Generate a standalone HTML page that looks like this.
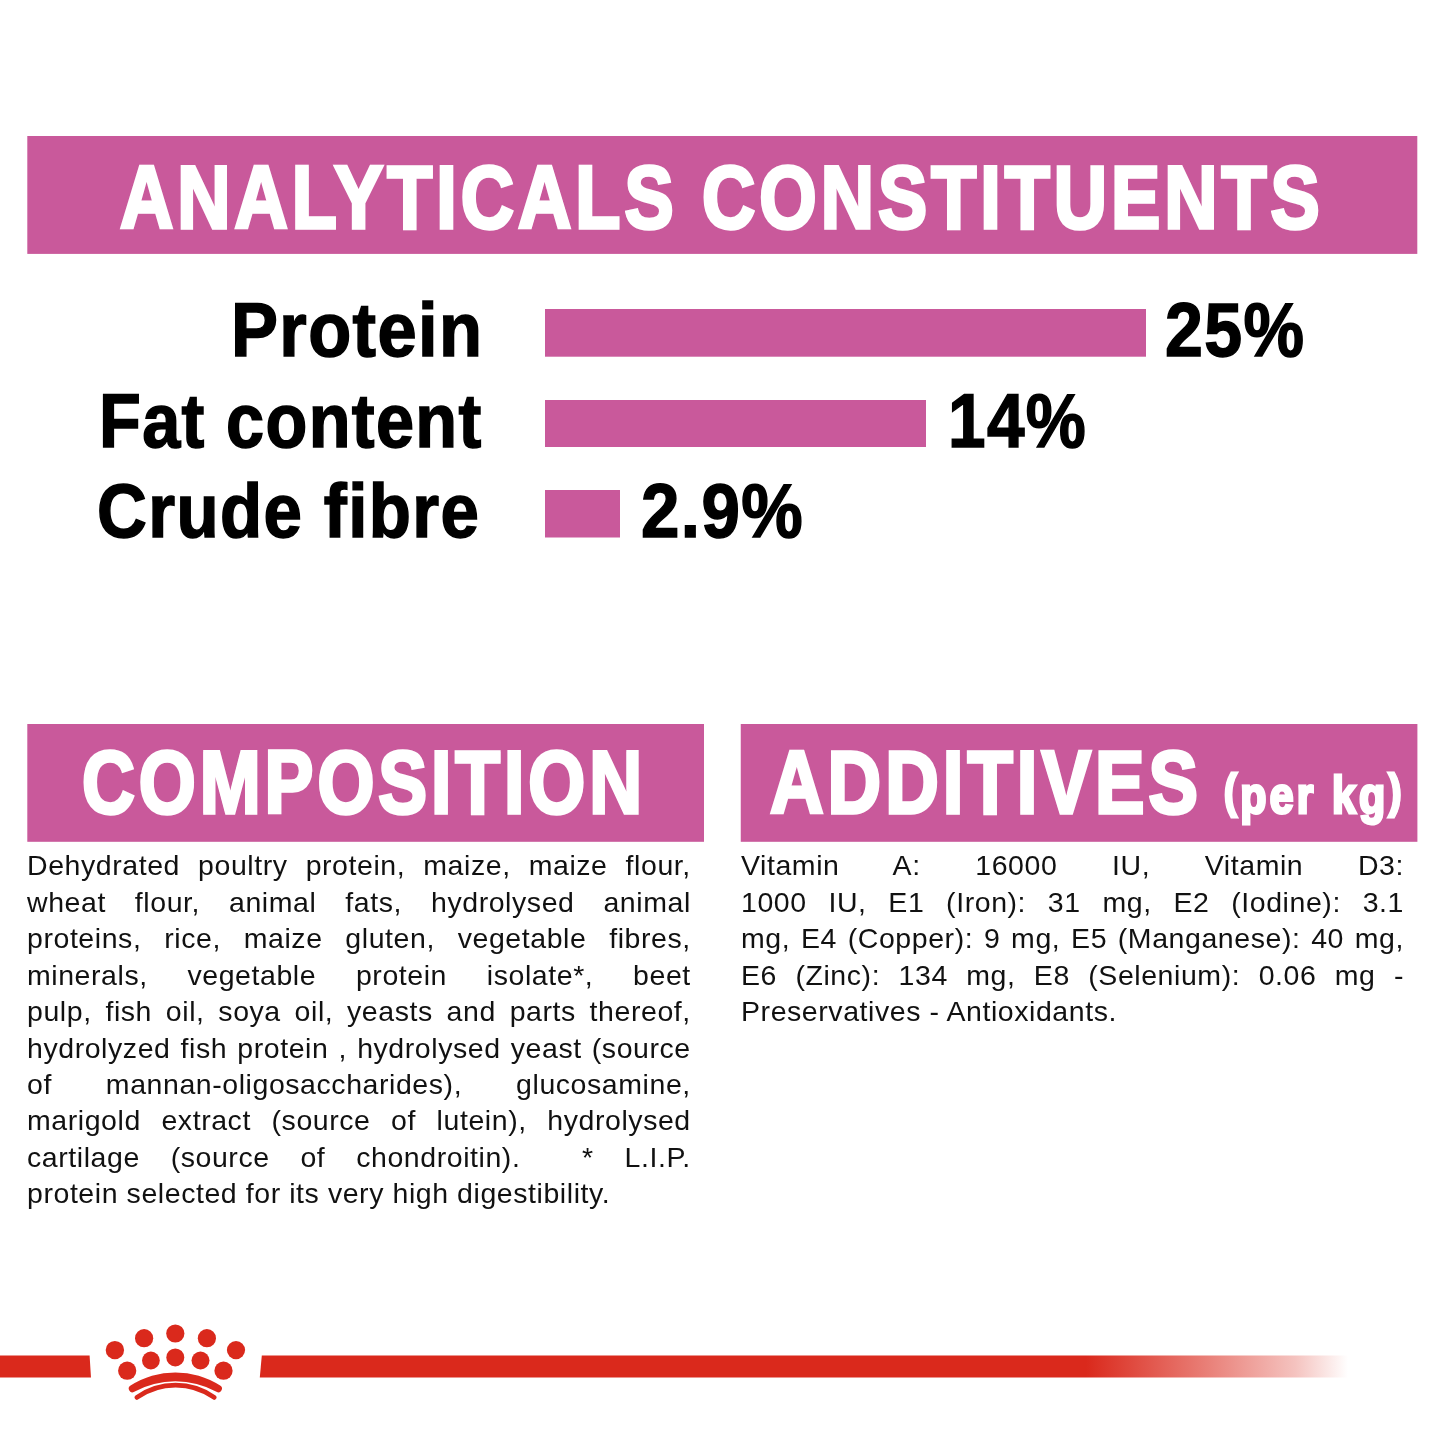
<!DOCTYPE html>
<html lang="en">
<head>
<meta charset="utf-8">
<title>Analytical constituents</title>
<style>
html,body{margin:0;padding:0;background:#fff;}
h1,h2,p,dl,dt,dd,small{margin:0;padding:0;}
body{width:1445px;height:1445px;position:relative;overflow:hidden;font-family:"Liberation Sans",sans-serif;}
.t{position:absolute;white-space:nowrap;transform-origin:0 100%;font-weight:bold;margin:0;padding:0;}
.w{color:#fff;}
.pa{position:relative;top:-6px;font-size:.9em;}
.k{color:#000;}
.bl{display:block;position:absolute;white-space:nowrap;color:#111;font-size:27.40px;line-height:27.40px;
 transform-origin:0 100%;transform:scaleX(1.0400);text-align:justify;text-align-last:justify;font-weight:normal;letter-spacing:0.55px;}
.bl i{display:inline-block;width:0;height:0}
.bl.last{text-align:left;text-align-last:left;word-spacing:0px}
svg{position:absolute;left:0;top:0;}
</style>
</head>
<body>
<svg width="1445" height="1445" viewBox="0 0 1445 1445" fill="#c9599b">
<rect x="27.3" y="136" width="1390" height="117.9"/>
<rect x="545" y="309" width="601" height="47.7"/>
<rect x="545" y="400" width="381" height="47"/>
<rect x="545" y="490" width="75" height="47.5"/>
<rect x="27.3" y="724" width="676.7" height="117.8"/>
<rect x="740.75" y="724" width="676.65" height="117.8"/>
</svg>
<main>
<section class="analytics">
<h1 class="t w" id="title" style="left:119.56px;top:153.68px;font-size:88.50px;line-height:88.50px;transform:scaleX(0.8334);-webkit-text-stroke:3.5px #fff;letter-spacing:4.8px;text-shadow:1.0px 0 0 #fff,-1.0px 0 0 #fff">ANALYTICALS CONSTITUENTS</h1>
<dl>
<dt class="t k" id="lab1" style="left:231.33px;top:292.94px;font-size:75.20px;line-height:75.20px;transform:scaleX(0.9365);-webkit-text-stroke:1.5px #000;letter-spacing:1.5px">Protein</dt>
<dd class="t k" id="val1" style="left:1164.50px;top:292.94px;font-size:75.20px;line-height:75.20px;transform:scaleX(0.9057);-webkit-text-stroke:1.5px #000;letter-spacing:1.5px">25%</dd>
<dt class="t k" id="lab2" style="left:98.72px;top:383.54px;font-size:75.20px;line-height:75.20px;transform:scaleX(0.9099);-webkit-text-stroke:1.5px #000;letter-spacing:1.5px">Fat content</dt>
<dd class="t k" id="val2" style="left:948.23px;top:383.54px;font-size:75.20px;line-height:75.20px;transform:scaleX(0.8978);-webkit-text-stroke:1.5px #000;letter-spacing:1.5px">14%</dd>
<dt class="t k" id="lab3" style="left:96.50px;top:473.74px;font-size:75.20px;line-height:75.20px;transform:scaleX(0.9180);-webkit-text-stroke:1.5px #000;letter-spacing:1.5px">Crude fibre</dt>
<dd class="t k" id="val3" style="left:641.47px;top:473.74px;font-size:75.20px;line-height:75.20px;transform:scaleX(0.9194);-webkit-text-stroke:1.5px #000;letter-spacing:1.5px">2.9%</dd>
</dl>
</section>
<section class="composition">
<h2 class="t w" id="comp" style="left:81.87px;top:739.28px;font-size:88.50px;line-height:88.50px;transform:scaleX(0.8268);-webkit-text-stroke:3.5px #fff;letter-spacing:4.8px;text-shadow:1.0px 0 0 #fff,-1.0px 0 0 #fff">COMPOSITION</h2>
<p>
<span class="bl" id="c0" style="left:27.20px;top:852.41px;width:638.27px">Dehydrated poultry protein, maize, maize flour,</span>
<span class="bl" id="c1" style="left:27.20px;top:888.85px;width:638.27px">wheat flour, animal fats, hydrolysed animal</span>
<span class="bl" id="c2" style="left:27.20px;top:925.29px;width:638.27px">proteins, rice, maize gluten, vegetable fibres,</span>
<span class="bl" id="c3" style="left:27.20px;top:961.73px;width:638.27px">minerals, vegetable protein isolate*, beet</span>
<span class="bl" id="c4" style="left:27.20px;top:998.17px;width:638.27px">pulp, fish oil, soya oil, yeasts and parts thereof,</span>
<span class="bl" id="c5" style="left:27.20px;top:1034.61px;width:638.27px">hydrolyzed fish protein , hydrolysed yeast (source</span>
<span class="bl" id="c6" style="left:27.20px;top:1071.05px;width:638.27px">of mannan-oligosaccharides), glucosamine,</span>
<span class="bl" id="c7" style="left:27.20px;top:1107.49px;width:638.27px">marigold extract (source of lutein), hydrolysed</span>
<span class="bl" id="c8" style="left:27.20px;top:1143.93px;width:638.27px">cartilage (source of chondroitin). <i></i> * L.I.P.</span>
<span class="bl last" id="c9" style="left:27.20px;top:1180.37px;width:638.27px">protein selected for its very high digestibility.</span>
</p>
</section>
<section class="additives">
<h2 class="t w" id="addi" style="left:769.65px;top:739.28px;font-size:88.50px;line-height:88.50px;transform:scaleX(0.8382);-webkit-text-stroke:3.5px #fff;letter-spacing:4.8px;text-shadow:1.0px 0 0 #fff,-1.0px 0 0 #fff">ADDITIVES</h2>
<small class="t w" id="perkg" style="left:1224.41px;top:769.91px;font-size:51.50px;line-height:51.50px;transform:scaleX(0.8312);-webkit-text-stroke:3px #fff;letter-spacing:4.0px;text-shadow:1.0px 0 0 #fff,-1.0px 0 0 #fff"><span class="pa">(</span>per kg<span class="pa">)</span></small>
<p>
<span class="bl" id="a0" style="left:741.00px;top:852.41px;width:637.50px">Vitamin A: 16000 IU, Vitamin D3:</span>
<span class="bl" id="a1" style="left:741.00px;top:888.85px;width:637.50px">1000 IU, E1 (Iron): 31 mg, E2 (Iodine): 3.1</span>
<span class="bl" id="a2" style="left:741.00px;top:925.29px;width:637.50px">mg, E4 (Copper): 9 mg, E5 (Manganese): 40 mg,</span>
<span class="bl" id="a3" style="left:741.00px;top:961.73px;width:637.50px">E6 (Zinc): 134 mg, E8 (Selenium): 0.06 mg -</span>
<span class="bl last" id="a4" style="left:741.00px;top:998.17px;width:637.50px">Preservatives - Antioxidants.</span>
</p>
</section>
</main>
<footer>
<svg width="1445" height="1445" viewBox="0 0 1445 1445">
<defs>
<linearGradient id="fade" gradientUnits="userSpaceOnUse" x1="1086" y1="0" x2="1348" y2="0">
<stop offset="0" stop-color="#da291c" stop-opacity="1"/>
<stop offset="0.48" stop-color="#da291c" stop-opacity="0.58"/>
<stop offset="0.80" stop-color="#da291c" stop-opacity="0.28"/>
<stop offset="0.93" stop-color="#da291c" stop-opacity="0.1"/>
<stop offset="1" stop-color="#da291c" stop-opacity="0"/>
</linearGradient>
</defs>
<polygon points="0,1355.5 89.6,1355.5 91,1377.5 0,1377.5" fill="#da291c"/>
<polygon points="261.8,1355.5 1086,1355.5 1086,1377.5 259.8,1377.5" fill="#da291c"/>
<rect x="1086" y="1355.5" width="263" height="22" fill="url(#fade)"/>
<g fill="#da291c">
<circle cx="114.9" cy="1350.1" r="9.2"/>
<circle cx="144.1" cy="1338.2" r="9.1"/>
<circle cx="175.3" cy="1333.5" r="9.1"/>
<circle cx="206.9" cy="1338.2" r="9.1"/>
<circle cx="236.0" cy="1350.1" r="9.1"/>
<circle cx="127.2" cy="1370.7" r="9.1"/>
<circle cx="150.9" cy="1360.5" r="8.9"/>
<circle cx="175.3" cy="1357.4" r="9.0"/>
<circle cx="200.5" cy="1360.5" r="9.0"/>
<circle cx="223.5" cy="1370.7" r="9.1"/>
</g>
<path d="M130.56 1385.6 A82.6 82.6 0 0 1 220.14 1385.6 A3.6 3.6 0 0 1 216.46 1391.8 A85 85 0 0 0 134.24 1391.8 A3.6 3.6 0 0 1 130.56 1385.6 Z" fill="#da291c"/>
<path d="M136.9 1397.4 A67 67 0 0 1 214.2 1397.4" fill="none" stroke="#da291c" stroke-width="4.8" stroke-linecap="round"/>
</svg>
</footer>
</body>
</html>
